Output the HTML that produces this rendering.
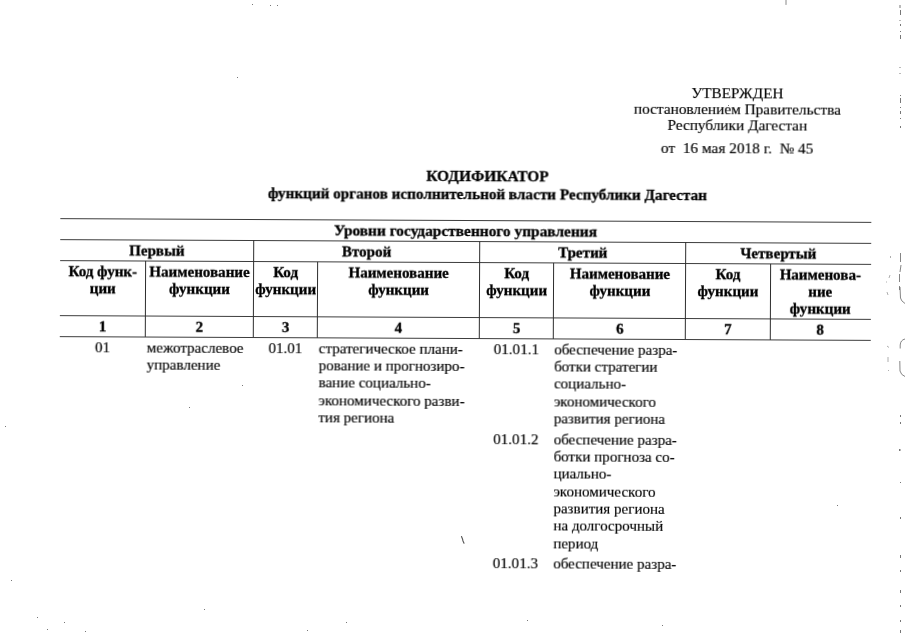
<!DOCTYPE html>
<html><head><meta charset="utf-8"><style>
html,body{margin:0;padding:0;background:#fff;width:905px;height:640px;overflow:hidden}
#pg{position:absolute;left:0;top:0;width:905px;height:640px;transform:rotate(0.265deg);transform-origin:465px 290px;will-change:transform}
.t{position:absolute;font-family:"Liberation Serif",serif;color:#000;white-space:nowrap;-webkit-text-stroke:0.15px #000}
.b{-webkit-text-stroke:0.3px #000}
.l{position:absolute}
</style></head><body>
<div id="pg">
<div class="t" style="top:81.64px;font-size:15.3px;line-height:20px;left:586.50px;width:300.00px;text-align:center;">УТВЕРЖДЕН</div>
<div class="t" style="top:98.44px;font-size:15.3px;line-height:20px;left:586.50px;width:300.00px;text-align:center;">постановлением Правительства</div>
<div class="t" style="top:114.24px;font-size:15.3px;line-height:20px;left:586.50px;width:300.00px;text-align:center;">Республики Дагестан</div>
<div class="t" style="top:136.64px;font-size:15.3px;line-height:20px;left:586.50px;width:300.00px;text-align:center;">от&nbsp; 16 мая 2018 г.&nbsp; № 45</div>
<div class="t b" style="top:166.49px;font-size:15.45px;line-height:20px;left:187.00px;width:600.00px;text-align:center;font-weight:bold;">КОДИФИКАТОР</div>
<div class="t b" style="top:184.07px;font-size:15.2px;line-height:20px;left:187.00px;width:600.00px;text-align:center;font-weight:bold;">функций органов исполнительной власти Республики Дагестан</div>
<div class="l" style="left:60.00px;top:219.88px;width:810.50px;height:1.15px;background:#3c3c3c"></div>
<div class="l" style="left:60.00px;top:240.88px;width:810.50px;height:1.15px;background:#3c3c3c"></div>
<div class="l" style="left:60.00px;top:261.73px;width:810.50px;height:1.15px;background:#3c3c3c"></div>
<div class="l" style="left:60.00px;top:317.03px;width:810.50px;height:1.15px;background:#3c3c3c"></div>
<div class="l" style="left:60.00px;top:337.62px;width:810.50px;height:1.15px;background:#3c3c3c"></div>
<div class="l" style="left:144.93px;top:262.30px;width:1.15px;height:75.90px;background:#2c2c2c"></div>
<div class="l" style="left:252.93px;top:241.45px;width:1.15px;height:96.75px;background:#2c2c2c"></div>
<div class="l" style="left:317.23px;top:262.30px;width:1.15px;height:75.90px;background:#2c2c2c"></div>
<div class="l" style="left:478.82px;top:241.45px;width:1.15px;height:96.75px;background:#2c2c2c"></div>
<div class="l" style="left:553.32px;top:262.30px;width:1.15px;height:75.90px;background:#2c2c2c"></div>
<div class="l" style="left:685.32px;top:241.45px;width:1.15px;height:96.75px;background:#2c2c2c"></div>
<div class="l" style="left:769.52px;top:262.30px;width:1.15px;height:75.90px;background:#2c2c2c"></div>
<div class="t b" style="top:221.20px;font-size:15.4px;line-height:20px;left:165.20px;width:600.00px;text-align:center;font-weight:bold;">Уровни государственного управления</div>
<div class="t b" style="top:242.12px;font-size:15.05px;line-height:20px;left:60.00px;width:193.50px;text-align:center;font-weight:bold;">Первый</div>
<div class="t b" style="top:242.12px;font-size:15.05px;line-height:20px;left:253.50px;width:225.90px;text-align:center;font-weight:bold;">Второй</div>
<div class="t b" style="top:242.12px;font-size:15.05px;line-height:20px;left:479.40px;width:206.50px;text-align:center;font-weight:bold;">Третий</div>
<div class="t b" style="top:242.12px;font-size:15.05px;line-height:20px;left:685.90px;width:184.60px;text-align:center;font-weight:bold;">Четвертый</div>
<div class="t b" style="top:263.12px;font-size:15.05px;line-height:20px;left:60.00px;width:85.50px;text-align:center;font-weight:bold;">Код функ-</div>
<div class="t b" style="top:280.12px;font-size:15.05px;line-height:20px;left:60.00px;width:85.50px;text-align:center;font-weight:bold;">ции</div>
<div class="t b" style="top:317.92px;font-size:15.05px;line-height:20px;left:60.00px;width:85.50px;text-align:center;font-weight:bold;">1</div>
<div class="t b" style="top:263.12px;font-size:15.05px;line-height:20px;left:145.50px;width:108.00px;text-align:center;font-weight:bold;">Наименование</div>
<div class="t b" style="top:280.12px;font-size:15.05px;line-height:20px;left:145.50px;width:108.00px;text-align:center;font-weight:bold;">функции</div>
<div class="t b" style="top:317.92px;font-size:15.05px;line-height:20px;left:145.50px;width:108.00px;text-align:center;font-weight:bold;">2</div>
<div class="t b" style="top:263.12px;font-size:15.05px;line-height:20px;left:253.50px;width:64.30px;text-align:center;font-weight:bold;">Код</div>
<div class="t b" style="top:280.12px;font-size:15.05px;line-height:20px;left:253.50px;width:64.30px;text-align:center;font-weight:bold;">функции</div>
<div class="t b" style="top:317.92px;font-size:15.05px;line-height:20px;left:253.50px;width:64.30px;text-align:center;font-weight:bold;">3</div>
<div class="t b" style="top:263.12px;font-size:15.05px;line-height:20px;left:317.80px;width:161.60px;text-align:center;font-weight:bold;">Наименование</div>
<div class="t b" style="top:280.12px;font-size:15.05px;line-height:20px;left:317.80px;width:161.60px;text-align:center;font-weight:bold;">функции</div>
<div class="t b" style="top:317.92px;font-size:15.05px;line-height:20px;left:317.80px;width:161.60px;text-align:center;font-weight:bold;">4</div>
<div class="t b" style="top:263.12px;font-size:15.05px;line-height:20px;left:479.40px;width:74.50px;text-align:center;font-weight:bold;">Код</div>
<div class="t b" style="top:280.12px;font-size:15.05px;line-height:20px;left:479.40px;width:74.50px;text-align:center;font-weight:bold;">функции</div>
<div class="t b" style="top:317.92px;font-size:15.05px;line-height:20px;left:479.40px;width:74.50px;text-align:center;font-weight:bold;">5</div>
<div class="t b" style="top:263.12px;font-size:15.05px;line-height:20px;left:553.90px;width:132.00px;text-align:center;font-weight:bold;">Наименование</div>
<div class="t b" style="top:280.12px;font-size:15.05px;line-height:20px;left:553.90px;width:132.00px;text-align:center;font-weight:bold;">функции</div>
<div class="t b" style="top:317.92px;font-size:15.05px;line-height:20px;left:553.90px;width:132.00px;text-align:center;font-weight:bold;">6</div>
<div class="t b" style="top:263.12px;font-size:15.05px;line-height:20px;left:685.90px;width:84.20px;text-align:center;font-weight:bold;">Код</div>
<div class="t b" style="top:280.12px;font-size:15.05px;line-height:20px;left:685.90px;width:84.20px;text-align:center;font-weight:bold;">функции</div>
<div class="t b" style="top:317.92px;font-size:15.05px;line-height:20px;left:685.90px;width:84.20px;text-align:center;font-weight:bold;">7</div>
<div class="t b" style="top:263.12px;font-size:15.05px;line-height:20px;left:770.10px;width:100.40px;text-align:center;font-weight:bold;">Наименова-</div>
<div class="t b" style="top:280.12px;font-size:15.05px;line-height:20px;left:770.10px;width:100.40px;text-align:center;font-weight:bold;">ние</div>
<div class="t b" style="top:297.12px;font-size:15.05px;line-height:20px;left:770.10px;width:100.40px;text-align:center;font-weight:bold;">функции</div>
<div class="t b" style="top:317.92px;font-size:15.05px;line-height:20px;left:770.10px;width:100.40px;text-align:center;font-weight:bold;">8</div>
<div class="t" style="top:338.72px;font-size:15.05px;line-height:20px;left:60.00px;width:85.50px;text-align:center;">01</div>
<div class="t" style="top:338.72px;font-size:15.05px;line-height:20px;left:147.00px;">межотраслевое</div>
<div class="t" style="top:356.05px;font-size:15.05px;line-height:20px;left:147.00px;">управление</div>
<div class="t" style="top:338.72px;font-size:15.05px;line-height:20px;left:253.50px;width:64.30px;text-align:center;">01.01</div>
<div class="t" style="top:338.72px;font-size:15.05px;line-height:20px;left:319.00px;">стратегическое плани-</div>
<div class="t" style="top:356.05px;font-size:15.05px;line-height:20px;left:319.00px;">рование и прогнозиро-</div>
<div class="t" style="top:373.38px;font-size:15.05px;line-height:20px;left:319.00px;">вание социально-</div>
<div class="t" style="top:390.71px;font-size:15.05px;line-height:20px;left:319.00px;">экономического разви-</div>
<div class="t" style="top:408.04px;font-size:15.05px;line-height:20px;left:319.00px;">тия региона</div>
<div class="t" style="top:338.72px;font-size:15.05px;line-height:20px;left:479.40px;width:74.50px;text-align:center;">01.01.1</div>
<div class="t" style="top:338.72px;font-size:15.05px;line-height:20px;left:554.40px;">обеспечение разра-</div>
<div class="t" style="top:356.05px;font-size:15.05px;line-height:20px;left:554.40px;">ботки стратегии</div>
<div class="t" style="top:373.38px;font-size:15.05px;line-height:20px;left:554.40px;">социально-</div>
<div class="t" style="top:390.71px;font-size:15.05px;line-height:20px;left:554.40px;">экономического</div>
<div class="t" style="top:408.04px;font-size:15.05px;line-height:20px;left:554.40px;">развития региона</div>
<div class="t" style="top:428.72px;font-size:15.05px;line-height:20px;left:479.40px;width:74.50px;text-align:center;">01.01.2</div>
<div class="t" style="top:428.72px;font-size:15.05px;line-height:20px;left:554.40px;">обеспечение разра-</div>
<div class="t" style="top:446.05px;font-size:15.05px;line-height:20px;left:554.40px;">ботки прогноза со-</div>
<div class="t" style="top:463.38px;font-size:15.05px;line-height:20px;left:554.40px;">циально-</div>
<div class="t" style="top:480.71px;font-size:15.05px;line-height:20px;left:554.40px;">экономического</div>
<div class="t" style="top:498.04px;font-size:15.05px;line-height:20px;left:554.40px;">развития региона</div>
<div class="t" style="top:515.37px;font-size:15.05px;line-height:20px;left:554.40px;">на долгосрочный</div>
<div class="t" style="top:532.70px;font-size:15.05px;line-height:20px;left:554.40px;">период</div>
<div class="t" style="top:552.52px;font-size:15.05px;line-height:20px;left:479.40px;width:74.50px;text-align:center;">01.01.3</div>
<div class="t" style="top:552.52px;font-size:15.05px;line-height:20px;left:554.40px;">обеспечение разра-</div>
</div>
<svg width="905" height="640" style="position:absolute;left:0;top:0">
<g fill="none" stroke="#555" stroke-width="1" stroke-linecap="round">
<path d="M786 0 L786 4.5" stroke="#888"/>
<path d="M461.5 536.5 L462.5 539 L463 541 L464 543.3" stroke-width="1.1"/>
</g>
<g fill="none" stroke="#9a9a9a" stroke-width="0.8">
<path d="M900.5 253 L900.5 262 M901 265 L900 272 M899.5 274 L899.5 282 M899.5 286 L899.5 290 M900 287 L900.5 298 Q901 301 905 303.5" stroke="#666"/>
<path d="M905 339 Q900.5 340 900.2 345 L900.2 348.5 M899.8 361 L900 371 Q901 375 905 376.5" stroke="#666"/>
<path d="M890.5 256 L890.5 258 M890 275 L889 278 M886 282 L887 282 M887 292 L888 295" stroke="#999"/>
<path d="M887 346 L889 347.5 M888 357 L888 362 M888.5 370 L888.5 371" stroke="#999"/>
</g>
<g fill="#777">
<rect x="899.5" y="5" width="1" height="3"/><rect x="900" y="10" width="1" height="5"/><rect x="899.5" y="20" width="1" height="1"/>
<rect x="900" y="24" width="1" height="2"/><rect x="900" y="31" width="1" height="1"/><rect x="900" y="35" width="1" height="4"/>
<rect x="899.5" y="67" width="1" height="1"/><rect x="899.5" y="73" width="1" height="1"/>
<rect x="900" y="95" width="1" height="1"/><rect x="900" y="98" width="1" height="5"/><rect x="900" y="107" width="1" height="1"/>
<rect x="900" y="111" width="1" height="3"/><rect x="900" y="118" width="1" height="1"/><rect x="900" y="126" width="1" height="2"/>
<rect x="900" y="415" width="1" height="2"/><rect x="900" y="422" width="1" height="2"/><rect x="899" y="449" width="1.5" height="2"/>
<rect x="900" y="482" width="1" height="1"/><rect x="900" y="517" width="1" height="2"/><rect x="900" y="555" width="1" height="3"/>
<rect x="900" y="570" width="1" height="2"/><rect x="900" y="590" width="1" height="3"/><rect x="900" y="605" width="1" height="2"/>
<rect x="900" y="620" width="1" height="2"/><rect x="900" y="630" width="1" height="3"/>
<rect x="242" y="385" width="1" height="1"/>
<rect x="5" y="426" width="1" height="1"/><rect x="11" y="580" width="1" height="1"/><rect x="37" y="617" width="1" height="1"/>
<rect x="47" y="629" width="1" height="1"/><rect x="64" y="622" width="1" height="1"/><rect x="85" y="631" width="1" height="1"/>
<rect x="204" y="609" width="1" height="1"/><rect x="189" y="407" width="1" height="1"/><rect x="346" y="622" width="1" height="1"/>
<rect x="307" y="630" width="1" height="1"/><rect x="527" y="620" width="1" height="1"/><rect x="662" y="625" width="1" height="1"/>
<rect x="837" y="505" width="1" height="1"/><rect x="728" y="105" width="1" height="1"/><rect x="237" y="77" width="1" height="1"/>
<rect x="252" y="4" width="1" height="1"/><rect x="270" y="5" width="1" height="1"/><rect x="277" y="5" width="1" height="1"/>
</g>
</svg>
</body></html>
